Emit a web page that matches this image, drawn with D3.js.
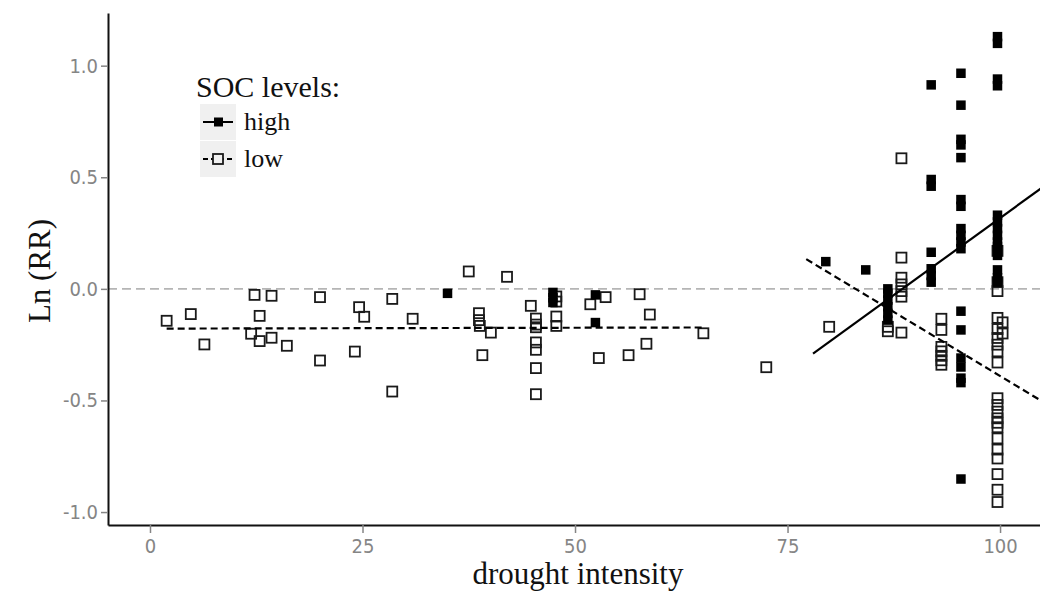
<!DOCTYPE html>
<html lang="en">
<head>
  <meta charset="UTF-8">
  <title>Ln (RR) vs drought intensity</title>
  <script src="https://d3js.org/d3.v7.min.js"></script>
  <style>
    body {
      margin: 0;
      background: #fff;
    }
    svg {
      display: block;
    }
    .tick text {
      font-family: "Liberation Sans Narrow", "DejaVu Sans Condensed", Arial, sans-serif;
      font-size: 20px;
      fill: #858585;
    }
    .tick line {
      stroke: #858585;
      stroke-width: 1.5;
    }
    .domain {
      stroke: #111;
      stroke-width: 2;
    }
    .serif {
      font-family: "Liberation Serif", "Times New Roman", serif;
      fill: #111;
    }
  </style>
</head>
<body>

<svg id="chart" width="1040" height="595"></svg>

<script>
// Data: [drought intensity, Ln(RR)]
const lowPoints = [
  [1.96, -0.143], [4.8, -0.113], [6.4, -0.249], [12.3, -0.027], [14.3, -0.031],
  [12.9, -0.121], [11.9, -0.201], [12.9, -0.234], [14.3, -0.219], [16.1, -0.255],
  [20.0, -0.037], [20.0, -0.321], [24.6, -0.082], [25.2, -0.125], [24.1, -0.281],
  [28.5, -0.045], [28.5, -0.46], [30.9, -0.134],
  [37.5, 0.078], [42.0, 0.054], [38.7, -0.109], [38.7, -0.14], [38.8, -0.166],
  [40.1, -0.196], [39.1, -0.297], [44.8, -0.076],
  [45.4, -0.133], [45.4, -0.16], [45.4, -0.172], [45.4, -0.24], [45.4, -0.273],
  [45.4, -0.355], [45.4, -0.472],
  [47.8, -0.034], [47.8, -0.057], [47.8, -0.124], [47.8, -0.166],
  [51.8, -0.069], [53.6, -0.037], [52.8, -0.31], [57.6, -0.024], [58.8, -0.115],
  [58.4, -0.246], [56.3, -0.297], [65.1, -0.199], [72.5, -0.351],
  [79.9, -0.17], [88.4, 0.585], [88.4, 0.14], [88.4, 0.05], [88.4, 0.02],
  [88.4, -0.01], [88.4, -0.035], [88.4, -0.196], [86.8, -0.17], [86.8, -0.19],
  [93.1, -0.134], [93.1, -0.184], [93.1, -0.26], [93.1, -0.28], [93.1, -0.3],
  [93.1, -0.32], [93.1, -0.34],
  [99.7, 0.17], [99.7, 0.03], [99.7, -0.01], [99.7, -0.13], [100.3, -0.15],
  [99.7, -0.18], [100.3, -0.2], [99.7, -0.22], [99.7, -0.25], [99.7, -0.28],
  [99.7, -0.33], [99.7, -0.49], [99.7, -0.52], [99.7, -0.55], [99.7, -0.58],
  [99.7, -0.6], [99.7, -0.62], [99.7, -0.67], [99.7, -0.72], [99.7, -0.76],
  [99.7, -0.83], [99.7, -0.9], [99.7, -0.955]
];

const highPoints = [
  [35.0, -0.02], [47.4, -0.016], [47.4, -0.04], [47.4, -0.061], [52.4, -0.027], [52.4, -0.151],
  [79.5, 0.122], [84.2, 0.085],
  [86.8, 0.0], [86.8, -0.02], [86.8, -0.05], [86.8, -0.08], [86.8, -0.11], [86.8, -0.14],
  [91.9, 0.914], [91.9, 0.49], [91.9, 0.46], [91.9, 0.164], [91.9, 0.09], [91.9, 0.06], [91.9, 0.03],
  [95.4, 0.966], [95.4, 0.823], [95.4, 0.67], [95.4, 0.645], [95.4, 0.588], [95.4, 0.4],
  [95.4, 0.37], [95.4, 0.27], [95.4, 0.24], [95.4, 0.21], [95.4, 0.18], [95.4, -0.1],
  [95.4, -0.184], [95.4, -0.31], [95.4, -0.35], [95.4, -0.4], [95.4, -0.42], [95.4, -0.852],
  [99.7, 1.13], [99.7, 1.1], [99.7, 0.94], [99.7, 0.91], [99.7, 0.33], [99.7, 0.3],
  [99.7, 0.27], [99.7, 0.24], [99.7, 0.21], [99.7, 0.19], [99.7, 0.15], [99.7, 0.085],
  [99.7, 0.05], [99.7, 0.03]
];

// fitted lines, as end points
const lowFitLeft = [[1.96, -0.178], [65.1, -0.173]];
const lowFitRight = [[77.2, 0.133], [106, -0.528]];
const highFitRight = [[78.0, -0.29], [106, 0.483]];

const xTicks = [0, 25, 50, 75, 100];
const yTicks = [-1.0, -0.5, 0.0, 0.5, 1.0];
const seriesNames = ["high", "low"];

// layout
const pLeft = 108, pRight = 1040, pTop = 13, pBottom = 525;

const svg = d3.select("#chart");

const x = d3.scaleLinear().domain([-4.94, 104.7]).range([pLeft, pRight]);
const y = d3.scaleLinear().domain([-1.058, 1.236]).range([pBottom, pTop]);

svg.append("defs").append("clipPath")
  .attr("id", "panel")
  .append("rect")
  .attr("x", pLeft).attr("y", pTop)
  .attr("width", pRight - pLeft).attr("height", pBottom - pTop);

const panel = svg.append("g").attr("clip-path", "url(#panel)");

// zero reference line
panel.append("line")
  .attr("x1", pLeft).attr("x2", pRight)
  .attr("y1", y(0)).attr("y2", y(0))
  .attr("stroke", "#b5b5b5")
  .attr("stroke-width", 1.6)
  .attr("stroke-dasharray", "9,5");

const line = d3.line().x(d => x(d[0])).y(d => y(d[1]));

// points
const sq = 10;
panel.selectAll(".low")
  .data(lowPoints)
  .enter().append("rect")
  .attr("class", "low")
  .attr("x", d => x(d[0]) - sq / 2)
  .attr("y", d => y(d[1]) - sq / 2)
  .attr("width", sq).attr("height", sq)
  .attr("fill", "none")
  .attr("stroke", "#1a1a1a")
  .attr("stroke-width", 1.8);

const fs = 9.5;
panel.selectAll(".high")
  .data(highPoints)
  .enter().append("rect")
  .attr("class", "high")
  .attr("x", d => x(d[0]) - fs / 2)
  .attr("y", d => y(d[1]) - fs / 2)
  .attr("width", fs).attr("height", fs)
  .attr("fill", "#000");

// fit lines
[lowFitLeft, lowFitRight].forEach(d => {
  panel.append("path")
    .datum(d)
    .attr("fill", "none")
    .attr("stroke", "#000")
    .attr("stroke-width", 2.2)
    .attr("stroke-dasharray", "7,4")
    .attr("d", line);
});

panel.append("path")
  .datum(highFitRight)
  .attr("fill", "none")
  .attr("stroke", "#000")
  .attr("stroke-width", 2.2)
  .attr("d", line);

// axes (plain hyphen for negatives, as in the original)
const fmt1 = d => d3.format(".1f")(d).replace("\u2212", "-");

svg.append("g")
  .attr("transform", `translate(0,${pBottom})`)
  .call(d3.axisBottom(x).tickValues(xTicks).tickSize(8).tickSizeOuter(0).tickPadding(6)
    .tickFormat(d3.format("d")));

svg.append("g")
  .attr("transform", `translate(${pLeft},0)`)
  .call(d3.axisLeft(y).tickValues(yTicks).tickSize(7).tickSizeOuter(0).tickPadding(3)
    .tickFormat(fmt1));

// axis titles
svg.append("text")
  .attr("class", "serif")
  .attr("x", (pLeft + pRight) / 2 + 4)
  .attr("y", 584)
  .attr("text-anchor", "middle")
  .attr("font-size", 31)
  .text("drought intensity");

svg.append("text")
  .attr("class", "serif")
  .attr("transform", `translate(50,${(pTop + pBottom) / 2 + 2}) rotate(-90)`)
  .attr("text-anchor", "middle")
  .attr("font-size", 31)
  .text("Ln (RR)");

// legend
const legend = svg.append("g").attr("transform", "translate(196,0)");
legend.append("text")
  .attr("class", "serif")
  .attr("x", 0).attr("y", 97)
  .attr("font-size", 30)
  .text("SOC levels:");

seriesNames.forEach((name, i) => {
  const ky = 104 + i * 37;
  const g = legend.append("g").attr("transform", `translate(4,${ky})`);
  g.append("rect")
    .attr("width", 36).attr("height", 36)
    .attr("fill", "#f0f0f0");
  g.append("line")
    .attr("x1", 3).attr("x2", 33)
    .attr("y1", 18).attr("y2", 18)
    .attr("stroke", "#000")
    .attr("stroke-width", 2)
    .attr("stroke-dasharray", name === "low" ? "5,3" : null);
  if (name === "high") {
    g.append("rect").attr("x", 14).attr("y", 13.5).attr("width", 9).attr("height", 9).attr("fill", "#000");
  } else {
    g.append("rect").attr("x", 13).attr("y", 13).attr("width", 10).attr("height", 10)
      .attr("fill", "#f0f0f0").attr("stroke", "#1a1a1a").attr("stroke-width", 1.8);
  }
  legend.append("text")
    .attr("class", "serif")
    .attr("x", 48).attr("y", ky + 26)
    .attr("font-size", 26)
    .text(name);
});
</script>

</body>
</html>
